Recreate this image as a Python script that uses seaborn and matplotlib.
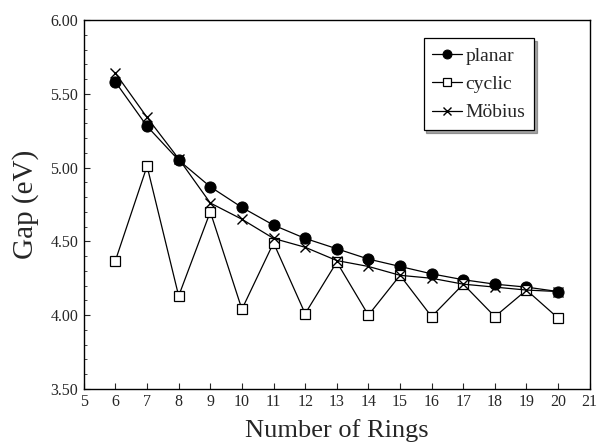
import numpy as np
import pandas as pd
import matplotlib.pyplot as plt
import matplotlib.ticker as mticker
import seaborn as sns

# ─── Data ────────────────────────────────────────────────────────────────────
rings = [6, 7, 8, 9, 10, 11, 12, 13, 14, 15, 16, 17, 18, 19, 20]
planar = [5.58, 5.28, 5.05, 4.87, 4.73, 4.61, 4.52, 4.45, 4.38, 4.33, 4.28, 4.24, 4.21, 4.19, 4.16]
cyclic = [4.37, 5.01, 4.13, 4.70, 4.04, 4.49, 4.01, 4.36, 4.00, 4.27, 3.99, 4.21, 3.99, 4.17, 3.98]
mobius = [5.64, 5.34, 5.06, 4.76, 4.65, 4.52, 4.46, 4.37, 4.33, 4.27, 4.25, 4.21, 4.19, 4.17, 4.16]

# ─── Style ───────────────────────────────────────────────────────────────────
sns.set_theme(style="ticks")
plt.rcParams.update({
    "font.family": ["Liberation Serif", "DejaVu Serif"],
    "axes.edgecolor": "black",
    "axes.linewidth": 1.0,
    "xtick.direction": "in",
    "ytick.direction": "in",
})

fig, ax = plt.subplots(figsize=(6.03, 4.45), dpi=100)
fig.subplots_adjust(left=0.139, right=0.978, bottom=0.126, top=0.955)

sns.lineplot(x=rings, y=planar, ax=ax, color="black", lw=0.9,
             marker="o", markersize=8, markerfacecolor="black",
             markeredgecolor="black", label="planar")
sns.lineplot(x=rings, y=cyclic, ax=ax, color="black", lw=0.9,
             marker="s", markersize=7, markerfacecolor="white",
             markeredgecolor="black", markeredgewidth=0.9, label="cyclic")
sns.lineplot(x=rings, y=mobius, ax=ax, color="black", lw=0.9,
             marker="x", markersize=7, markeredgecolor="black",
             markeredgewidth=1.0, label="Möbius")

ax.set_xlim(5, 21)
ax.set_ylim(3.5, 6.0)
ax.xaxis.set_major_locator(mticker.MultipleLocator(1))
ax.yaxis.set_major_locator(mticker.MultipleLocator(0.5))
ax.yaxis.set_major_formatter(mticker.FormatStrFormatter("%.2f"))
ax.yaxis.set_minor_locator(mticker.MultipleLocator(0.1))
ax.tick_params(axis="both", labelsize=11.5, length=4, width=0.8, pad=4)
ax.tick_params(axis="y", which="minor", length=2, width=0.6)

ax.set_xlabel("Number of Rings", fontsize=19, labelpad=6)
ax.set_ylabel("Gap (eV)", fontsize=21, labelpad=8)

leg = ax.legend(loc="upper right", bbox_to_anchor=(0.89, 0.95), frameon=True,
                fancybox=False, shadow=True, fontsize=14, handlelength=1.5,
                handletextpad=0.2, borderpad=0.45, labelspacing=0.55,
                borderaxespad=0, markerscale=0.8)
leg.get_frame().set_edgecolor("black")
leg.get_frame().set_linewidth(0.9)

plt.savefig("out.png", dpi=100)
plt.close()
